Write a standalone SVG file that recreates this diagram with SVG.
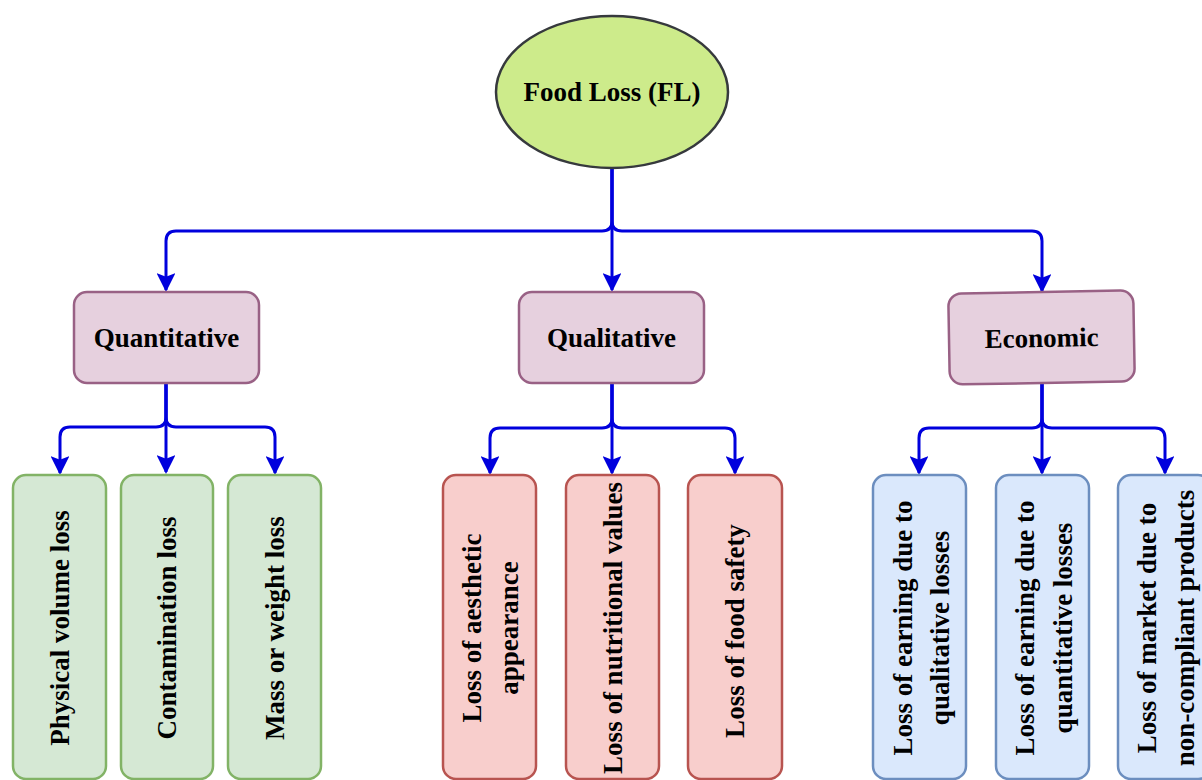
<svg xmlns="http://www.w3.org/2000/svg" width="1202" height="780" viewBox="0 0 1202 780">
<defs>
<marker id="arr" viewBox="0 0 20 20" refX="18" refY="10" markerWidth="6.3" markerHeight="6.3" markerUnits="strokeWidth" orient="auto">
<path d="M0,0 L20,10 L0,20 L4,10 Z" fill="#0000dd"/>
</marker>
<style>
text{font-family:"Liberation Serif","Times New Roman",serif;font-weight:bold;font-size:27px;fill:#000;text-anchor:middle;dominant-baseline:central}
.c{fill:none;stroke:#0000dd;stroke-width:3}
.a{marker-end:url(#arr)}
.mid{fill:#e6d0de;stroke:#996185;stroke-width:2.5}
.g{fill:#d5e8d4;stroke:#82b366;stroke-width:2.5}
.r{fill:#f8cecc;stroke:#b85450;stroke-width:2.5}
.b{fill:#dae8fc;stroke:#6c8ebf;stroke-width:2.5}
</style>
</defs>
<rect width="1202" height="780" fill="#fff"/>
<g id="connectors">
<path class="c a" d="M612,168 V290"/>
<path class="c a" d="M612,168 V221 Q612,231 602,231 H176 Q166,231 166,241 V290"/>
<path class="c a" d="M612,168 V221 Q612,231 622,231 H1032 Q1042,231 1042,241 V291"/>
<path class="c a" d="M166,383 V472"/>
<path class="c a" d="M166,383 V417 Q166,427 156,427 H70 Q60,427 60,437 V473"/>
<path class="c a" d="M166,383 V417 Q166,427 176,427 H265 Q275,427 275,437 V473"/>
<path class="c a" d="M612,383 V473"/>
<path class="c a" d="M612,383 V418 Q612,428 602,428 H500 Q490,428 490,438 V473"/>
<path class="c a" d="M612,383 V418 Q612,428 622,428 H725 Q735,428 735,438 V473"/>
<path class="c a" d="M1042,381 V473"/>
<path class="c a" d="M1042,381 V418 Q1042,428 1032,428 H929 Q919,428 919,438 V473"/>
<path class="c a" d="M1042,381 V418 Q1042,428 1052,428 H1155 Q1165,428 1165,438 V473"/>
</g>
<g id="root">
<ellipse cx="612" cy="92" rx="116" ry="76" fill="#cdeb8b" stroke="#36393d" stroke-width="2.5"/>
<text x="612" y="92">Food Loss (FL)</text>
</g>
<g id="quantitative">
<rect class="mid" x="74" y="292" width="185" height="91" rx="13"/>
<text x="166.5" y="338">Quantitative</text>
</g>
<g id="qualitative">
<rect class="mid" x="519" y="292" width="185" height="91" rx="13"/>
<text x="611.5" y="338">Qualitative</text>
</g>
<g id="economic" transform="rotate(-1 1041 337)">
<rect class="mid" x="949" y="292" width="185" height="91" rx="13"/>
<text x="1041.5" y="338">Economic</text>
</g>
<g id="physical">
<rect class="g" x="13" y="475" width="93" height="304" rx="13"/>
<text transform="translate(60,628) rotate(-90)">Physical volume loss</text>
</g>
<g id="contamination">
<rect class="g" x="121" y="475" width="92" height="304" rx="13"/>
<text transform="translate(167,628) rotate(-90)">Contamination loss</text>
</g>
<g id="mass">
<rect class="g" x="228" y="475" width="93" height="304" rx="13"/>
<text transform="translate(274.5,628) rotate(-90)">Mass or weight loss</text>
</g>
<g id="aesthetic">
<rect class="r" x="443" y="475" width="93" height="304" rx="13"/>
<text transform="translate(472,628) rotate(-90)">Loss of aesthetic</text>
<text transform="translate(509,628) rotate(-90)">appearance</text>
</g>
<g id="nutritional">
<rect class="r" x="566" y="475" width="93" height="304" rx="13"/>
<text transform="translate(612.5,628) rotate(-90)">Loss of nutritional values</text>
</g>
<g id="safety">
<rect class="r" x="688" y="475" width="94" height="304" rx="13"/>
<text transform="translate(735,631) rotate(-90)">Loss of food safety</text>
</g>
<g id="earning-qual">
<rect class="b" x="873" y="475" width="93" height="304" rx="13"/>
<text transform="translate(903,628) rotate(-90)">Loss of earning due to</text>
<text transform="translate(940,628) rotate(-90)">qualitative losses</text>
</g>
<g id="earning-quant">
<rect class="b" x="996" y="475" width="93" height="304" rx="13"/>
<text transform="translate(1025,628) rotate(-90)">Loss of earning due to</text>
<text transform="translate(1063,628) rotate(-90)">quantitative losses</text>
</g>
<g id="market">
<rect class="b" x="1118" y="475" width="93" height="304" rx="13"/>
<text transform="translate(1147,628) rotate(-90)">Loss of market due to</text>
<text transform="translate(1185,628) rotate(-90)">non-compliant products</text>
</g>
</svg>
